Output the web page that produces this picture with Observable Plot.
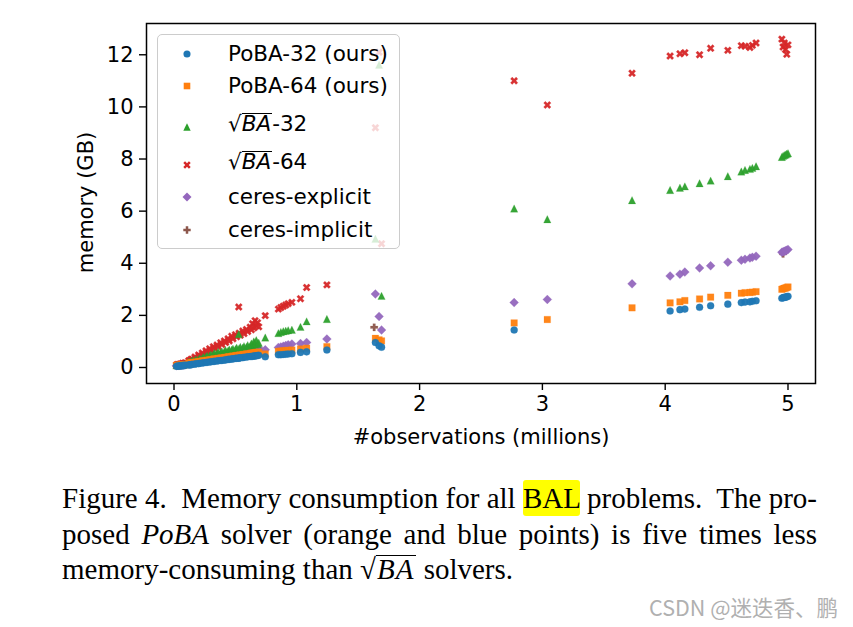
<!DOCTYPE html>
<html>
<head>
<meta charset="utf-8">
<script src="https://cdn.jsdelivr.net/npm/d3@7"></script>
<script src="https://cdn.jsdelivr.net/npm/@observablehq/plot@0.6"></script>
<style>
html,body{margin:0;padding:0;background:#fff;}
#wrap{position:relative;width:853px;height:627px;overflow:hidden;background:#fff;}
#chart{position:absolute;left:0;top:0;}
.ax{position:absolute;font-family:"DejaVu Sans",sans-serif;font-size:21px;color:#000;white-space:nowrap;line-height:21px;text-align:center;}
#xlabel{left:281px;width:400px;top:427px;}
#ylabel{left:-14px;width:200px;top:192px;transform:rotate(-90deg);}
#legend{position:absolute;left:157px;top:34px;width:241px;height:213px;border:1px solid #cccccc;border-radius:5px;background:rgba(255,255,255,0.8);font-family:"DejaVu Sans",sans-serif;font-size:21.5px;color:#000;}
.mk{position:absolute;left:19px;width:20px;height:20px;overflow:visible;}
.lt{position:absolute;left:70px;height:30px;line-height:30px;white-space:nowrap;}
.ov{display:inline-block;font-style:italic;border-top:1.6px solid #000;line-height:0.95em;padding-right:1px;}
#caption{position:absolute;left:62px;top:481px;width:755px;font-family:"Liberation Serif","DejaVu Serif",serif;font-size:29px;line-height:35.5px;color:#000;}
.jl{text-align:justify;text-align-last:justify;}
.hl{background:#ffff00;border-radius:3px;padding:2px 0;}
.ov2{display:inline-block;font-style:italic;border-top:1.4px solid #000;line-height:0.92em;padding:0 2px 0 1px;letter-spacing:1px;}
#wm{position:absolute;right:15px;top:594px;font-family:"Noto Sans CJK SC",sans-serif;font-size:21.5px;color:#b0b0b0;white-space:nowrap;line-height:26px;}
</style>
</head>
<body>
<div id="wrap">
  <div id="chart"></div>
  <div class="ax" id="xlabel">#observations (millions)</div>
  <div class="ax" id="ylabel">memory (GB)</div>
  <div id="legend"></div>
  <div id="caption">
    <div class="jl">Figure 4.&nbsp; Memory consumption for all <span class="hl">BAL</span> problems.&nbsp; The pro-</div>
    <div class="jl">posed <i>PoBA</i> solver (orange and blue points) is five times less</div>
    <div>memory-consuming than <span>√</span><span class="ov2">BA</span> solvers.</div>
  </div>
  <div id="wm">CSDN @迷迭香、鹏</div>
</div>
<script>
// ---------------- data (millions of observations, memory in GB) ----------------
const obs = [
  0.02,0.03,0.04,0.05,0.06,0.07,0.08,0.09,
  0.12,0.13,0.14,0.15,0.17,0.18,0.20,0.21,0.23,0.24,
  0.26,0.27,0.29,0.30,0.32,0.33,0.35,0.36,0.38,0.39,
  0.41,0.42,0.44,0.45,0.47,0.48,0.50,0.51,0.53,0.54,
  0.56,0.57,0.59,0.60,0.62,0.63,0.64,0.65,0.66,0.67,
  0.68,0.69,
  0.527,
  0.743,0.85,0.87,0.89,0.91,0.93,0.96,1.03,1.08,1.245,
  1.64,1.67,1.69,
  2.77,3.04,3.73,4.04,4.12,4.16,4.28,4.37,4.51,4.62,
  4.65,4.69,4.71,4.74,4.95,4.96,4.97,4.98,4.99,5.00
];
const poba32 = [
  0.05,0.06,0.05,0.07,0.06,0.08,0.07,0.09,
  0.10,0.10,0.11,0.12,0.13,0.14,0.15,0.16,0.17,0.18,
  0.19,0.20,0.21,0.22,0.23,0.24,0.25,0.26,0.27,0.27,
  0.29,0.29,0.31,0.31,0.33,0.33,0.35,0.35,0.36,0.37,
  0.38,0.39,0.40,0.41,0.42,0.42,0.43,0.44,0.44,0.45,
  0.46,0.47,
  0.36,
  0.41,0.49,0.49,0.50,0.51,0.52,0.53,0.58,0.60,0.67,
  0.96,0.83,0.78,
  1.44,null,null,2.17,2.22,2.24,2.31,2.37,2.43,2.49,
  2.51,2.52,2.54,2.56,2.66,2.68,2.69,2.70,2.71,2.73
];
const poba64 = [
  0.08,0.09,0.08,0.10,0.09,0.11,0.10,0.12,
  0.17,0.17,0.18,0.19,0.20,0.21,0.22,0.23,0.25,0.26,
  0.27,0.28,0.29,0.30,0.32,0.33,0.34,0.35,0.36,0.37,
  0.38,0.39,0.41,0.41,0.43,0.44,0.45,0.46,0.47,0.48,
  0.50,0.50,0.52,0.52,0.54,0.55,0.55,0.56,0.57,0.58,
  0.58,0.59,
  0.47,
  0.52,0.62,0.63,0.64,0.65,0.66,0.67,0.71,0.74,0.80,
  1.12,1.06,1.02,
  1.71,1.84,2.29,2.48,2.52,2.57,2.63,2.70,2.77,2.85,
  2.87,2.88,2.89,2.91,3.00,3.02,3.04,3.05,3.07,3.09
];
const sqrtBA32 = [
  0.08,0.09,0.09,0.10,0.10,0.12,0.11,0.13,
  0.22,0.21,0.24,0.27,0.28,0.31,0.31,0.35,0.36,0.40,
  0.41,0.45,0.45,0.50,0.50,0.56,0.54,0.60,0.58,0.62,
  0.62,0.66,0.64,0.69,0.68,0.72,0.70,0.76,0.73,0.79,
  0.76,0.82,0.79,0.86,0.82,0.92,0.85,1.00,0.88,1.05,
  0.90,0.95,
  1.28,
  1.15,1.32,1.36,1.39,1.41,1.43,1.45,1.56,1.77,1.86,
  4.94,11.62,2.75,
  6.10,5.69,6.42,6.81,6.90,6.95,7.07,7.17,7.34,7.52,
  7.58,7.62,7.66,7.72,8.08,8.12,8.15,8.17,8.20,8.22
];
const sqrtBA64 = [
  0.10,0.12,0.11,0.14,0.13,0.16,0.15,0.18,
  0.26,0.27,0.32,0.31,0.40,0.36,0.48,0.44,0.56,0.50,
  0.64,0.58,0.72,0.66,0.80,0.74,0.86,0.80,0.95,0.88,
  1.02,0.96,1.10,1.02,1.20,1.10,1.26,1.18,1.32,1.24,
  1.40,1.30,1.46,1.38,1.55,1.45,1.68,1.52,1.80,1.60,
  1.72,1.56,
  2.32,
  1.99,2.24,2.30,2.35,2.40,2.45,2.50,2.64,3.07,3.17,
  9.20,12.10,4.75,
  11.00,10.07,11.29,11.95,12.04,12.08,12.00,12.25,12.17,12.35,
  12.33,12.28,12.36,12.45,12.60,12.30,12.45,12.20,12.02,12.38
];
const ceresExplicit = [
  0.07,0.08,0.08,0.09,0.09,0.10,0.10,0.11,
  0.20,0.20,0.22,0.23,0.25,0.26,0.27,0.29,0.31,0.32,
  0.34,0.35,0.37,0.38,0.40,0.41,0.43,0.44,0.46,0.47,
  0.49,0.50,0.52,0.53,0.55,0.56,0.58,0.59,0.60,0.61,
  0.63,0.64,0.66,0.67,0.69,0.69,0.70,0.71,0.72,0.73,
  0.74,0.75,
  0.61,
  0.68,0.77,0.79,0.82,0.84,0.87,0.90,0.92,0.96,1.09,
  2.82,1.96,1.44,
  2.49,2.61,3.21,3.51,3.58,3.66,3.82,3.90,4.04,4.12,
  4.15,4.20,4.23,4.27,4.42,4.44,4.46,4.48,4.50,4.53
];
const implicitObs = [1.63, 4.96];
const ceresImplicit = [1.54, 4.36];

const xTicks = [0, 1, 2, 3, 4, 5];
const yTicks = [0, 2, 4, 6, 8, 10, 12];

// ---------------- marker shapes (matplotlib-like) ----------------
const symCircle = {draw(c){ const r=3.55; c.moveTo(r,0); c.arc(0,0,r,0,2*Math.PI); c.closePath(); }};
const symSquare = {draw(c){ const h=3.3; c.moveTo(-h,-h); c.lineTo(h,-h); c.lineTo(h,h); c.lineTo(-h,h); c.closePath(); }};
const symTri = {draw(c){ const a=3.7; c.moveTo(0,-a); c.lineTo(a,a); c.lineTo(-a,a); c.closePath(); }};
function crossPts(L, w){ return [[w,-L],[w,-w],[L,-w],[L,w],[w,w],[w,L],[-w,L],[-w,w],[-L,w],[-L,-w],[-w,-w],[-w,-L]]; }
const symX = {draw(c){ const k=Math.SQRT1_2; crossPts(4.0,1.25).forEach(([x,y],i)=>{ const X=(x-y)*k, Y=(x+y)*k; i?c.lineTo(X,Y):c.moveTo(X,Y); }); c.closePath(); }};
const symDiamond = {draw(c){ const h=4.5; c.moveTo(0,-h); c.lineTo(h,0); c.lineTo(0,h); c.lineTo(-h,0); c.closePath(); }};
const symPlus = {draw(c){ crossPts(3.7,1.25).forEach(([x,y],i)=>{ i?c.lineTo(x,y):c.moveTo(x,y); }); c.closePath(); }};

const series = [
  {name:"PoBA-32 (ours)", ys:poba32, xs:obs, color:"#1f77b4", sym:symCircle},
  {name:"PoBA-64 (ours)", ys:poba64, xs:obs, color:"#ff7f0e", sym:symSquare},
  {name:"sqrtBA-32", ys:sqrtBA32, xs:obs, color:"#2ca02c", sym:symTri, sq:"-32"},
  {name:"sqrtBA-64", ys:sqrtBA64, xs:obs, color:"#d62728", sym:symX, sq:"-64"},
  {name:"ceres-explicit", ys:ceresExplicit, xs:obs, color:"#9467bd", sym:symDiamond},
  {name:"ceres-implicit", ys:ceresImplicit, xs:implicitObs, color:"#8c564b", sym:symPlus}
];

const rowsOf = s => s.xs.map((x,i)=>({x, y:s.ys[i]})).filter(d=>d.y!=null);

// drawn in reverse order so PoBA-32 ends on top
const dotMarks = series.slice().reverse().map(s =>
  Plot.dot(rowsOf(s), {x:"x", y:"y", symbol:s.sym, fill:s.color, fillOpacity:0.95, stroke:s.color, strokeOpacity:0.25, strokeWidth:0.8, r:3})
);

const chart = Plot.plot({
  width: 853,
  height: 460,
  marginLeft: 146,
  marginRight: 38,
  marginTop: 23,
  marginBottom: 77,
  style: {fontFamily:"DejaVu Sans, sans-serif", fontSize:"21px", color:"#000", background:"transparent", overflow:"visible"},
  x: {domain:[-0.224, 5.224]},
  y: {domain:[-0.614, 13.2]},
  marks: [
    ...dotMarks,
    Plot.axisX({ticks:xTicks, tickSize:7, tickPadding:6, label:null, strokeWidth:1.4, tickFormat:d=>String(d)}),
    Plot.axisY({ticks:yTicks, tickSize:7, tickPadding:6, label:null, strokeWidth:1.4, tickFormat:d=>String(d)}),
    Plot.frame({stroke:"#000", strokeWidth:1.5})
  ]
});
document.getElementById("chart").appendChild(chart);

// ---------------- legend ----------------
const legend = document.getElementById("legend");
const rowCenters = [19, 50.7, 92, 130.4, 162.4, 194.7];
series.forEach((s, i) => {
  const cy = rowCenters[i];
  const svg = document.createElementNS("http://www.w3.org/2000/svg","svg");
  svg.setAttribute("class","mk");
  svg.setAttribute("viewBox","-10 -10 20 20");
  svg.style.top = (cy-10)+"px";
  const p = document.createElementNS("http://www.w3.org/2000/svg","path");
  p.setAttribute("d", d3.symbol(s.sym)());
  p.setAttribute("fill", s.color);
  svg.appendChild(p);
  legend.appendChild(svg);
  const t = document.createElement("div");
  t.className = "lt";
  if (s.sq) {
    t.style.top = (cy-18)+"px";
    t.innerHTML = '√<span class="ov">BA</span>' + s.sq;
  } else {
    t.style.top = (cy-15)+"px";
    t.textContent = s.name;
  }
  legend.appendChild(t);
});
</script>
</body>
</html>
